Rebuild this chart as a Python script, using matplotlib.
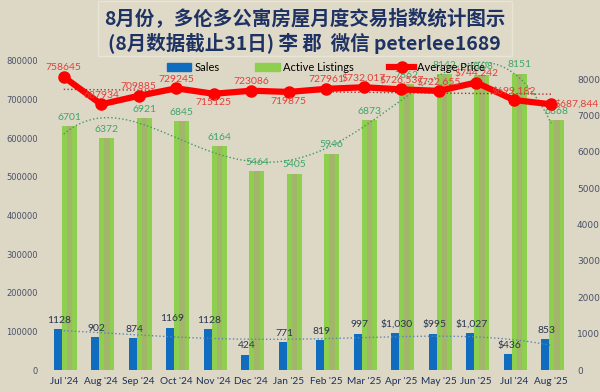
import matplotlib
matplotlib.use('Agg')
import matplotlib.pyplot as plt
import numpy as np
from matplotlib.patches import Rectangle
from matplotlib.lines import Line2D
from matplotlib.patches import Patch

months = ["Jul '24", "Aug '24", "Sep '24", "Oct '24", "Nov '24", "Dec '24", "Jan '25",
          "Feb '25", "Mar '25", "Apr '25", "May '25", "Jun '25", "Jul '24", "Aug '25"]
sales = [1128, 902, 874, 1169, 1128, 424, 771, 819, 997, 1030, 995, 1027, 436, 853]
sales_labels = ["1128", "902", "874", "1169", "1128", "424", "771", "819", "997",
                "$1,030", "$995", "$1,027", "$436", "853"]
listings = [6701, 6372, 6921, 6845, 6164, 5464, 5405, 5946, 6873, 7862, 8142, 8108, 8151, 6868]
price = [758645, 687934, 709885, 729245, 715125, 723086, 719875, 727961, 732017,
         726537, 722655, 744242, 699182, 687844]
price_labels = ["758645", "687934", "709885", "729245", "715125", "723086", "719875",
                "727961", "$732,017", "$726,537", "$722,655", "$744,242", "$699,182", "$687,844"]
# label above (a) or below (b) the point, r = right of it
price_pos = ['a', 'a', 'a', 'a', 'b', 'a', 'b', 'a', 'a', 'a', 'a', 'a', 'a', 'r']

bg = '#ddd8c5'
blue = '#0f6cbf'
green = '#8ecf4f'
olive = '#a3b56b'
red = '#ff0000'
navy = '#1f2d5a'
font = 'Lato'

fig = plt.figure(figsize=(6, 3.92), dpi=100, facecolor=bg)
ax = fig.add_axes([45 / 600, 22 / 392, 525 / 600, 309 / 392])
ax.set_facecolor(bg)
x = np.arange(len(months))

# bars on the right-hand scale
ax.bar(x - 0.27, sales, width=0.22, align='edge', color=blue, zorder=2)
ax.bar(x - 0.05, listings, width=0.40, align='edge', color=green, zorder=2)
ax.bar(x + 0.15, listings, width=0.14, color=olive, zorder=2)
ax.set_ylim(0, 8500)
ax.set_xlim(-0.5, len(months) - 0.5)
ax.set_yticks(range(0, 8001, 1000))

for i in x:
    ax.text(i - 0.12, sales[i] + 120, sales_labels[i], ha='center', va='bottom',
            fontsize=7.5, color='#2a3550', family=font)
    ax.text(i + 0.15, listings[i] + 120, str(listings[i]), ha='center', va='bottom',
            fontsize=7.5, color='#3fa56a', family=font)

# trendlines
xs = np.linspace(0, len(months) - 1, 200)
ax.plot(xs, np.polyval(np.polyfit(x, listings, 4), xs), ':', color='#3f9a5f', lw=1, zorder=3)
ax.plot(xs, np.polyval(np.polyfit(x, sales, 4), xs), ':', color='#5b86b0', lw=1, zorder=3)

# price on the left-hand scale
ax2 = ax.twinx()
ax.yaxis.tick_right()
ax2.yaxis.tick_left()
ax2.set_ylim(0, 800000)
ax2.set_yticks(range(0, 800001, 100000))
ax2.plot(xs, np.polyval(np.polyfit(x, price, 1), xs), ':', color='#b03030', lw=1, zorder=3)
ax2.plot(x, price, color=red, lw=4.5, marker='o', markersize=8, zorder=4)
for i in x:
    if price_pos[i] == 'a':
        ax2.text(i, price[i] + 12000, price_labels[i], ha='center', va='bottom',
                 fontsize=7.5, color='#e0403a', family=font, zorder=5)
    elif price_pos[i] == 'b':
        ax2.text(i, price[i] - 12000, price_labels[i], ha='center', va='top',
                 fontsize=7.5, color='#e0403a', family=font, zorder=5)
    else:
        ax2.text(i + 0.1, price[i], price_labels[i], ha='left', va='center',
                 fontsize=7.5, color='#e0403a', family=font, zorder=5)

for a in (ax, ax2):
    for s in a.spines.values():
        s.set_visible(False)
    a.tick_params(length=0, colors='#4a5068', labelsize=6)
ax.tick_params(axis='y', labelsize=6.5, pad=5)
ax2.tick_params(axis='y', pad=5)
ax.set_xticks(x)
ax.set_xticklabels(months, fontsize=7.2, color=navy, family=font)
ax.tick_params(axis='x', pad=5)

handles = [Patch(color=blue), Patch(color=green),
           Line2D([], [], color=red, lw=4.5, marker='o', markersize=8)]
ax2.legend(handles, ['Sales', 'Active Listings', 'Average Price'], ncol=3,
           loc='upper center', bbox_to_anchor=(0.535, 1.03), frameon=False,
           handlelength=2.2, handletextpad=0.3, columnspacing=3.2,
           prop={'family': font, 'size': 8})

# title box
fig.patches.append(Rectangle((98 / 600, 1 - 56 / 392), 414 / 600, 55 / 392,
                             transform=fig.transFigure, facecolor='#dfdac8',
                             edgecolor='#e8e4d6', lw=1))
cjk = ['Noto Sans CJK SC', 'DejaVu Sans']
fig.text(0.508, 1 - 18 / 392, '8月份，多伦多公寓房屋月度交易指数统计图示', ha='center',
         va='center', fontsize=14, weight='bold', color='#1f3264', family=cjk)
fig.text(0.508, 1 - 43 / 392, '(8月数据截止31日) 李 郡  微信 peterlee1689', ha='center',
         va='center', fontsize=14, weight='bold', color='#1f3264', family=cjk)

fig.savefig('out.png', dpi=100, facecolor=bg)
